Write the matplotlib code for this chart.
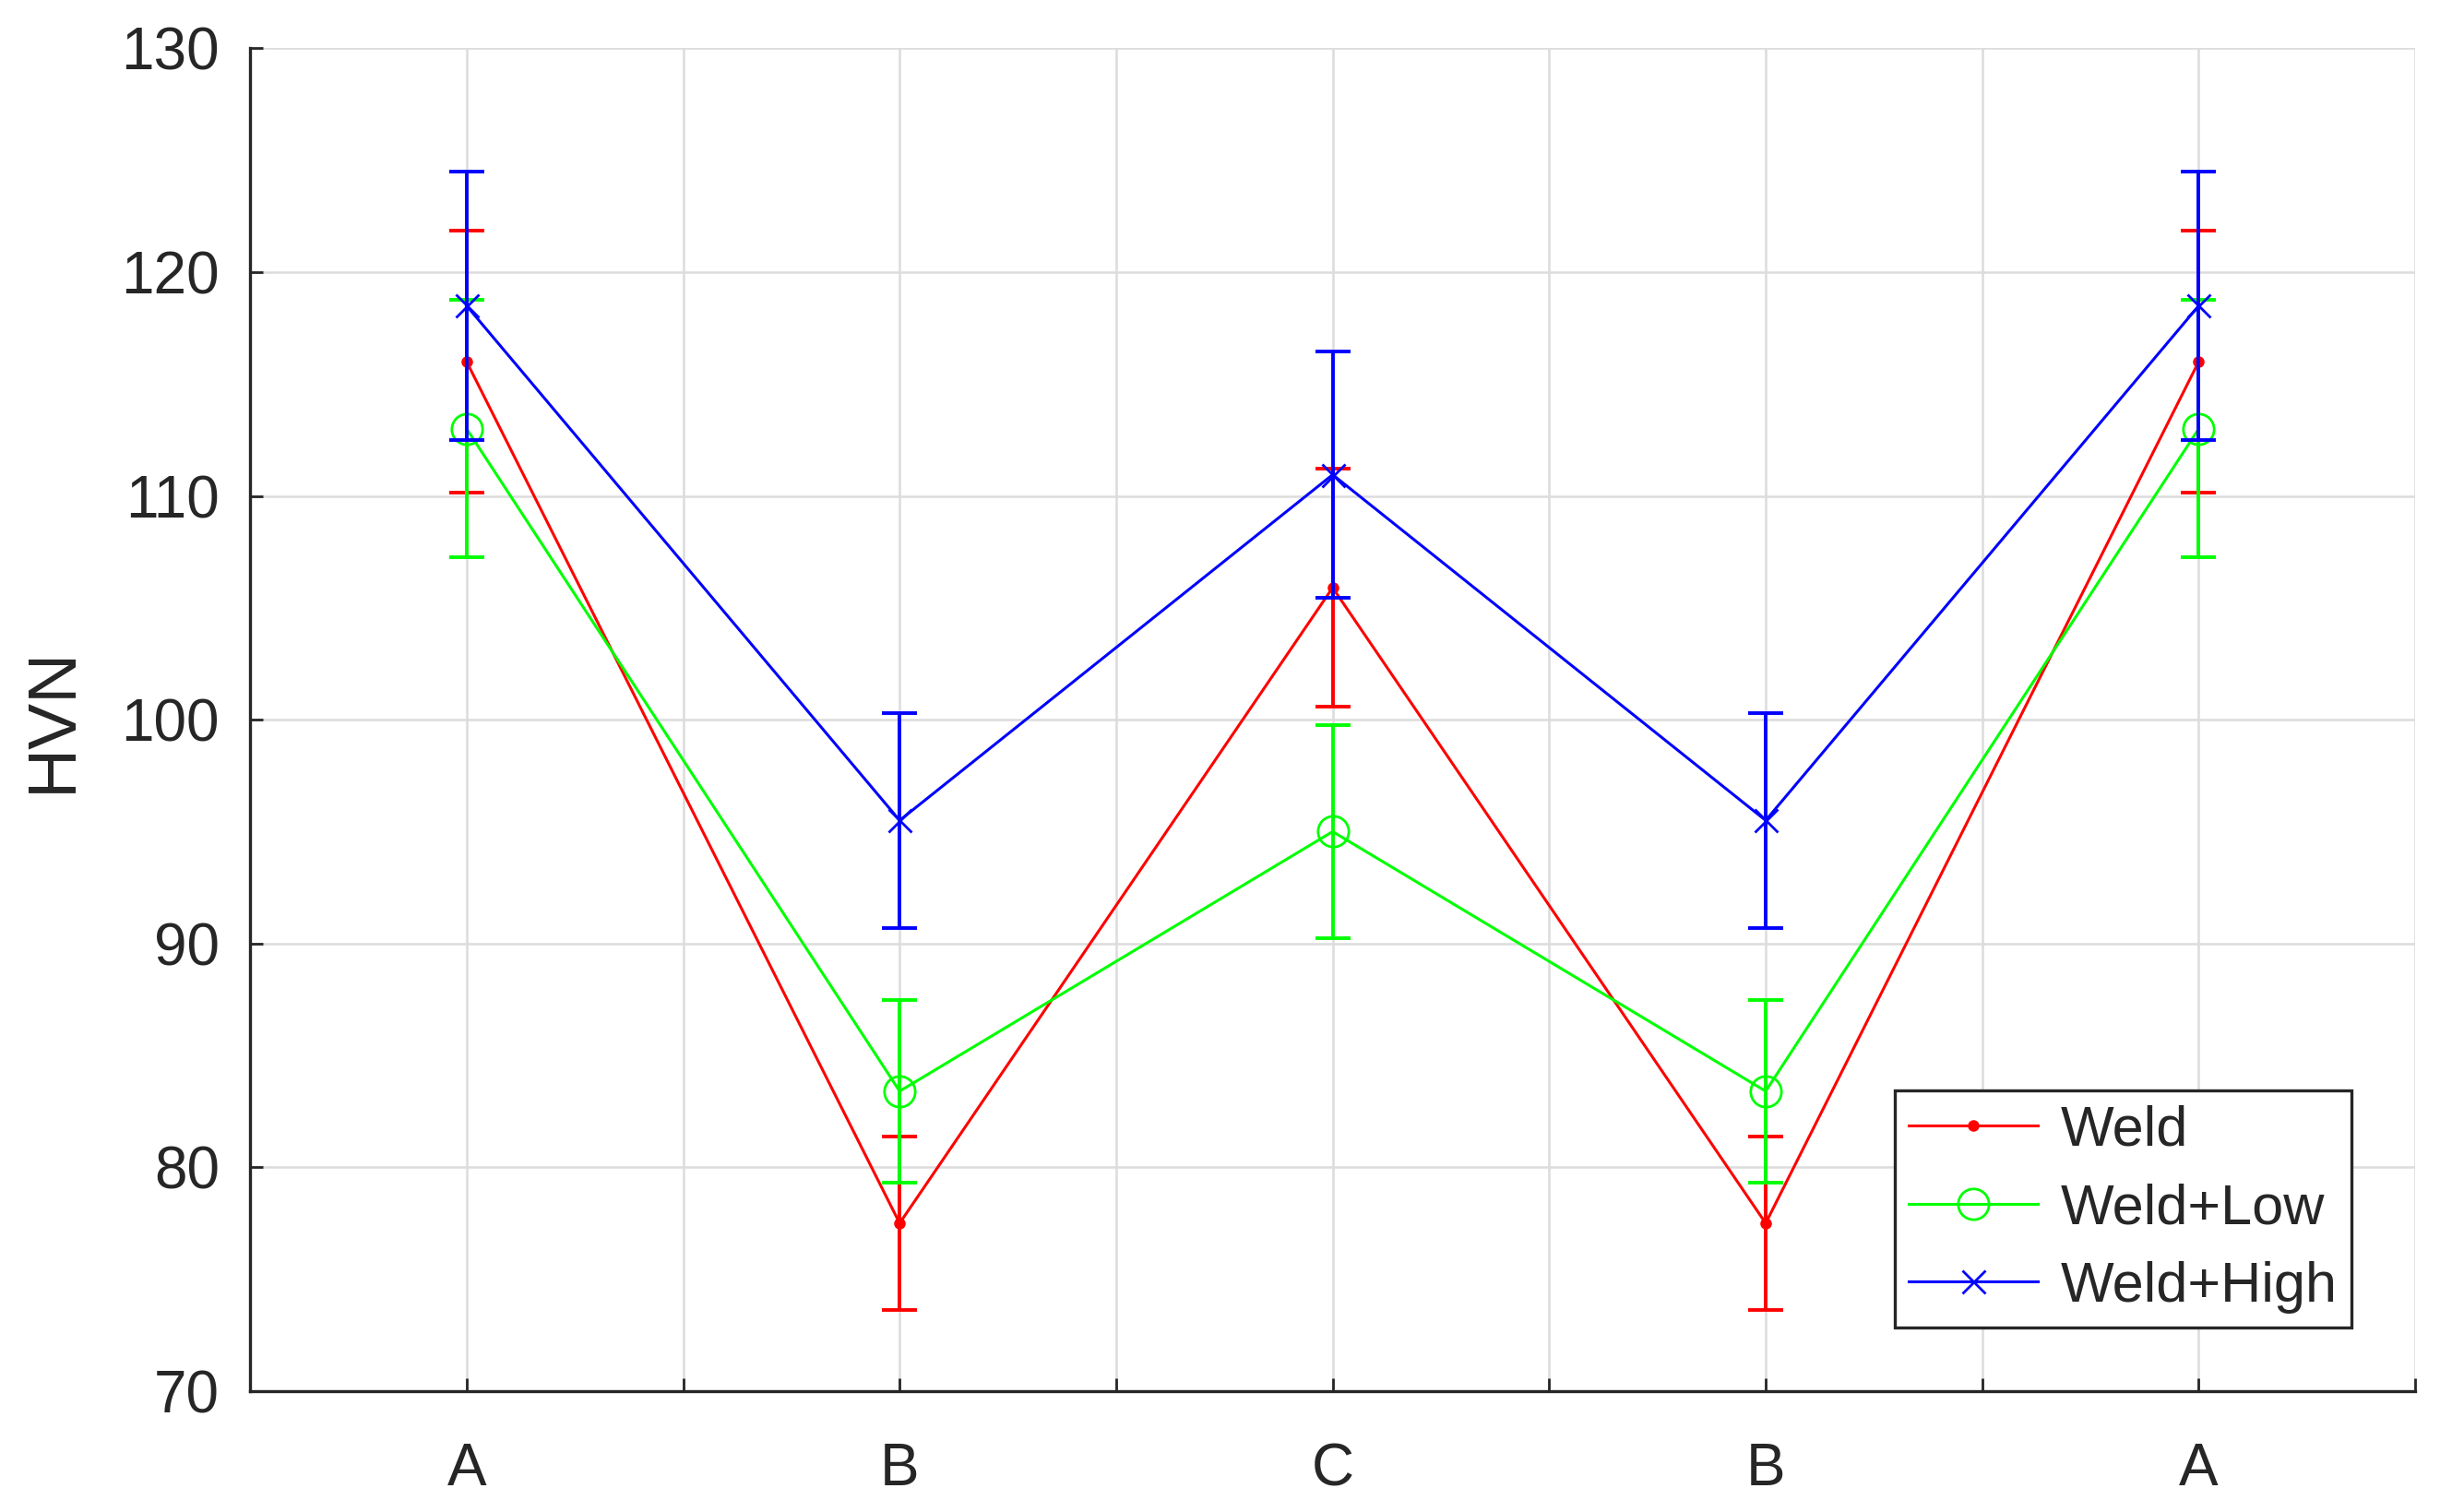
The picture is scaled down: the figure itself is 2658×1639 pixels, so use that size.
import matplotlib
matplotlib.use('Agg')
import matplotlib.pyplot as plt
import numpy as np

plt.rcParams['font.family'] = ['Liberation Sans', 'DejaVu Sans']

# positions along the weld profile
pos = [1, 2, 3, 4, 5]
zones = ['A', 'B', 'C', 'B', 'A']

# mean hardness and error (HVN)
weld = [116.0, 77.5, 105.9, 77.5, 116.0]
weld_err = [5.85, 3.87, 5.3, 3.87, 5.85]
low = [113.0, 83.4, 95.0, 83.4, 113.0]
low_err = [5.75, 4.07, 4.75, 4.07, 5.75]
high = [118.5, 95.5, 110.95, 95.5, 118.5]
high_err = [6.0, 4.8, 5.5, 4.8, 6.0]

dark = '#262626'

fig = plt.figure(figsize=(13.29, 8.195), dpi=200, facecolor='w')
ax = fig.add_axes([0.102, 0.080, 0.883, 0.888])

series = [
    (weld, weld_err, (1, 0, 0), '.', 7, 'Weld'),
    (low, low_err, (0, 1, 0), 'o', 12, 'Weld+Low'),
    (high, high_err, (0, 0, 1), 'x', 9, 'Weld+High'),
]

for y, e, c, m, ms, lab in series:
    ax.errorbar(pos, y, yerr=e, fmt='none', ecolor=c, elinewidth=1.4,
                capsize=6.8, capthick=1.4, zorder=3)
    ax.plot(pos, y, color=c, marker=m, markersize=ms, linewidth=1.1,
            markerfacecolor='none' if m == 'o' else c,
            markeredgewidth=1.0, label=lab, zorder=3)

ax.set_xlim(0.5, 5.5)
ax.set_ylim(70, 130)
xt = np.arange(0.5, 5.51, 0.5)
ax.set_xticks(xt)
ax.set_xticklabels([zones[int(v) - 1] if v == int(v) else '' for v in xt])
ax.set_yticks(np.arange(70, 131, 10))
ax.tick_params(direction='in', length=5, width=1, colors=dark,
               labelsize=23, pad=12)
ax.tick_params(axis='x', pad=20)
ax.grid(True, color='#dcdcdc', linewidth=0.9)
ax.set_axisbelow(True)

for s in ['top', 'right']:
    ax.spines[s].set_visible(False)
for s in ['left', 'bottom']:
    ax.spines[s].set_color(dark)
    ax.spines[s].set_linewidth(1.2)

ax.set_ylabel('HVN', fontsize=27, color=dark, labelpad=14)

leg = ax.legend(loc='lower right', fontsize=22, frameon=True, fancybox=False,
                borderaxespad=1.13, handlelength=2.3, labelspacing=0.45,
                borderpad=0.25, handletextpad=0.4)
leg.get_frame().set_edgecolor(dark)
leg.get_frame().set_linewidth(1.2)
leg.get_frame().set_alpha(1)
for t in leg.get_texts():
    t.set_color(dark)

plt.savefig('out.png', dpi=200, facecolor='w')
